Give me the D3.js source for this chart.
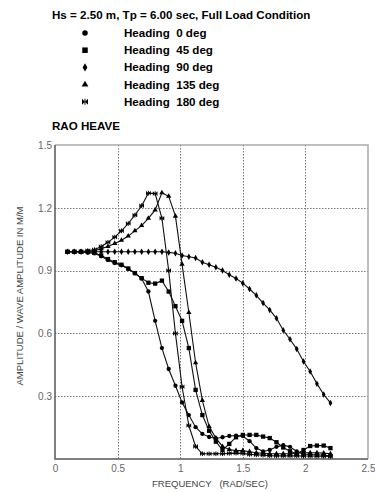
<!DOCTYPE html>
<html>
<head>
<meta charset="utf-8">
<script src="https://cdn.jsdelivr.net/npm/d3@7"></script>
<style>
  body { margin: 0; background: #fff; }
  svg { display: block; font-family: "Liberation Sans", Arial, sans-serif; }
</style>
</head>
<body>
<div id="chart"></div>
<script>
// frequencies (rad/sec), 40 points from 0.1 to 2.2
const freq = [0.100, 0.154, 0.208, 0.262, 0.315, 0.369, 0.423, 0.477, 0.531, 0.585,
  0.638, 0.692, 0.746, 0.800, 0.854, 0.908, 0.962, 1.015, 1.069, 1.123,
  1.177, 1.231, 1.285, 1.338, 1.392, 1.446, 1.500, 1.554, 1.608, 1.662,
  1.715, 1.769, 1.823, 1.877, 1.931, 1.985, 2.038, 2.092, 2.146, 2.200];

const head0 = [0.99, 0.99, 0.99, 0.985, 0.982, 0.968, 0.95, 0.936, 0.925, 0.908,
  0.887, 0.862, 0.80, 0.66, 0.53, 0.43, 0.35, 0.27, 0.21, 0.152,
  0.12, 0.105, 0.098, 0.104, 0.11, 0.112, 0.11, 0.085, 0.052, 0.036,
  0.043, 0.058, 0.066, 0.058, 0.036, 0.025, 0.02, 0.02, 0.018, 0.015];

const head45 = [0.99, 0.99, 0.99, 0.99, 0.985, 0.972, 0.955, 0.94, 0.928, 0.91,
  0.888, 0.864, 0.842, 0.838, 0.852, 0.80, 0.73, 0.66, 0.53, 0.33,
  0.21, 0.135, 0.083, 0.043, 0.072, 0.104, 0.115, 0.115, 0.115, 0.107,
  0.10, 0.08, 0.055, 0.037, 0.025, 0.043, 0.062, 0.064, 0.064, 0.052];

const head90 = [0.99, 0.99, 0.99, 0.99, 0.99, 0.99, 0.99, 0.99, 0.99, 0.99,
  0.99, 0.99, 0.99, 0.99, 0.99, 0.987, 0.983, 0.972, 0.966, 0.96,
  0.94, 0.928, 0.916, 0.90, 0.88, 0.862, 0.84, 0.812, 0.782, 0.745,
  0.712, 0.672, 0.615, 0.572, 0.525, 0.466, 0.418, 0.36, 0.308, 0.268];

const head135 = [0.99, 0.99, 0.99, 0.99, 0.995, 1.005, 1.015, 1.03, 1.045, 1.065,
  1.09, 1.115, 1.15, 1.19, 1.272, 1.255, 1.16, 0.93, 0.70, 0.46,
  0.28, 0.155, 0.10, 0.06, 0.045, 0.04, 0.04, 0.035, 0.03, 0.028,
  0.025, 0.025, 0.025, 0.025, 0.028, 0.03, 0.03, 0.03, 0.028, 0.025];

const head180 = [0.99, 0.99, 0.99, 0.995, 1.0, 1.015, 1.035, 1.06, 1.09, 1.125,
  1.165, 1.21, 1.27, 1.268, 1.15, 0.90, 0.60, 0.345, 0.16, 0.06,
  0.025, 0.025, 0.025, 0.025, 0.027, 0.028, 0.027, 0.022, 0.02, 0.018,
  0.016, 0.015, 0.015, 0.015, 0.015, 0.014, 0.014, 0.013, 0.013, 0.012];

const headings = ["0", "45", "90", "135", "180"];
const seriesValues = [head0, head45, head90, head135, head180];
const markerTypes = ["circle", "square", "diamond", "triangle", "bowtie"];

const xTicks = [0, 0.5, 1, 1.5, 2, 2.5];
const xTickLabels = ["0", "0.5", "1", "1.5", "2", "2.5"];
const yTicks = [0.3, 0.6, 0.9, 1.2, 1.5];
const yTickLabels = ["0.3", "0.6", "0.9", "1.2", "1.5"];

const width = 375, height = 492;
const plot = { left: 55, right: 368, top: 145, bottom: 459 };

const svg = d3.select("#chart").append("svg")
  .attr("width", width)
  .attr("height", height);

const x = d3.scaleLinear().domain([0, 2.5]).range([plot.left, plot.right]);
const y = d3.scaleLinear().domain([0, 1.5]).range([plot.bottom, plot.top]);

// marker drawing
function marker(g, type, s) {
  if (type === "circle") {
    g.append("circle").attr("r", 2.4 * s);
  } else if (type === "square") {
    g.append("rect").attr("x", -2.4 * s).attr("y", -2.4 * s)
      .attr("width", 4.8 * s).attr("height", 4.8 * s);
  } else if (type === "diamond") {
    g.append("path").attr("d", d3.symbol(d3.symbolDiamond, 15 * s * s)());
  } else if (type === "triangle") {
    g.append("path").attr("d", d3.symbol(d3.symbolTriangle, 15 * s * s)());
  } else {
    const a = 2.6 * s;
    g.append("path").attr("d",
      `M${-a},${-a}L0,0L${-a},${a}ZM${a},${-a}L0,0L${a},${a}Z`);
    g.append("path").attr("d", `M0,${-a}V${a}`).attr("stroke", "#000").attr("stroke-width", 1);
  }
}

// header texts
svg.append("text")
  .attr("x", 52).attr("y", 19)
  .attr("font-size", 11.6).attr("font-weight", "bold")
  .text("Hs = 2.50 m, Tp = 6.00 sec, Full Load Condition");

headings.forEach((h, i) => {
  const yy = 33 + i * 17.2;
  const g = svg.append("g").attr("transform", `translate(85,${yy})`).attr("fill", "#000");
  marker(g, markerTypes[i], 1.15);
  svg.append("text")
    .attr("x", 124).attr("y", yy + 4)
    .attr("font-size", 11.6).attr("font-weight", "bold")
    .attr("xml:space", "preserve")
    .text("Heading  " + h + " deg");
});

svg.append("text")
  .attr("x", 52).attr("y", 130)
  .attr("font-size", 11.6).attr("font-weight", "bold")
  .text("RAO HEAVE");

// grid
const grid = svg.append("g")
  .attr("stroke", "#777").attr("stroke-width", 1)
  .attr("stroke-dasharray", "1.5,1.5");
xTicks.slice(1, -1).forEach(t => {
  grid.append("line")
    .attr("x1", Math.round(x(t)) + 0.5).attr("x2", Math.round(x(t)) + 0.5)
    .attr("y1", plot.top).attr("y2", plot.bottom);
});
yTicks.slice(0, -1).forEach(t => {
  grid.append("line")
    .attr("x1", plot.left).attr("x2", plot.right)
    .attr("y1", Math.round(y(t)) + 0.5).attr("y2", Math.round(y(t)) + 0.5);
});

// frame
svg.append("path")
  .attr("d", `M${plot.left},${plot.top}H${plot.right}V${plot.bottom}`)
  .attr("fill", "none").attr("stroke", "#aaa").attr("stroke-width", 1.5);
svg.append("path")
  .attr("d", `M${plot.left},${plot.top}V${plot.bottom}H${plot.right}`)
  .attr("fill", "none").attr("stroke", "#555").attr("stroke-width", 1.5);

// axes labels via d3 axes
const xAxis = svg.append("g")
  .attr("transform", `translate(0,${plot.bottom})`)
  .call(d3.axisBottom(x).tickValues(xTicks).tickSize(0).tickPadding(6)
    .tickFormat((d, i) => xTickLabels[i]));
xAxis.select(".domain").remove();
xAxis.selectAll("text").attr("font-size", 10).attr("fill", "#666")
  .attr("font-family", "Liberation Sans, Arial, sans-serif");

const yAxis = svg.append("g")
  .attr("transform", `translate(${plot.left},0)`)
  .call(d3.axisLeft(y).tickValues(yTicks).tickSize(0).tickPadding(3)
    .tickFormat((d, i) => yTickLabels[i]));
yAxis.select(".domain").remove();
yAxis.selectAll("text").attr("font-size", 10).attr("fill", "#666")
  .attr("font-family", "Liberation Sans, Arial, sans-serif");

svg.append("text")
  .attr("x", 210).attr("y", 487)
  .attr("text-anchor", "middle")
  .attr("font-size", 9.5).attr("fill", "#444")
  .attr("xml:space", "preserve")
  .text("FREQUENCY   (RAD/SEC)");

svg.append("text")
  .attr("transform", `translate(23,296) rotate(-90)`)
  .attr("text-anchor", "middle")
  .attr("font-size", 9.5).attr("fill", "#444")
  .text("AMPLITUDE / WAVE AMPLITUDE IN M/M");

// series
const line = d3.line()
  .x(d => x(d[0]))
  .y(d => y(d[1]));

seriesValues.forEach((vals, i) => {
  const pts = freq.map((f, j) => [f, vals[j]]);
  svg.append("path")
    .datum(pts)
    .attr("fill", "none")
    .attr("stroke", "#111")
    .attr("stroke-width", 1.1)
    .attr("d", line);
  const mg = svg.append("g").attr("fill", "#000");
  pts.forEach(p => {
    const g = mg.append("g").attr("transform", `translate(${x(p[0])},${y(p[1])})`);
    marker(g, markerTypes[i], 0.9);
  });
});
</script>
</body>
</html>
